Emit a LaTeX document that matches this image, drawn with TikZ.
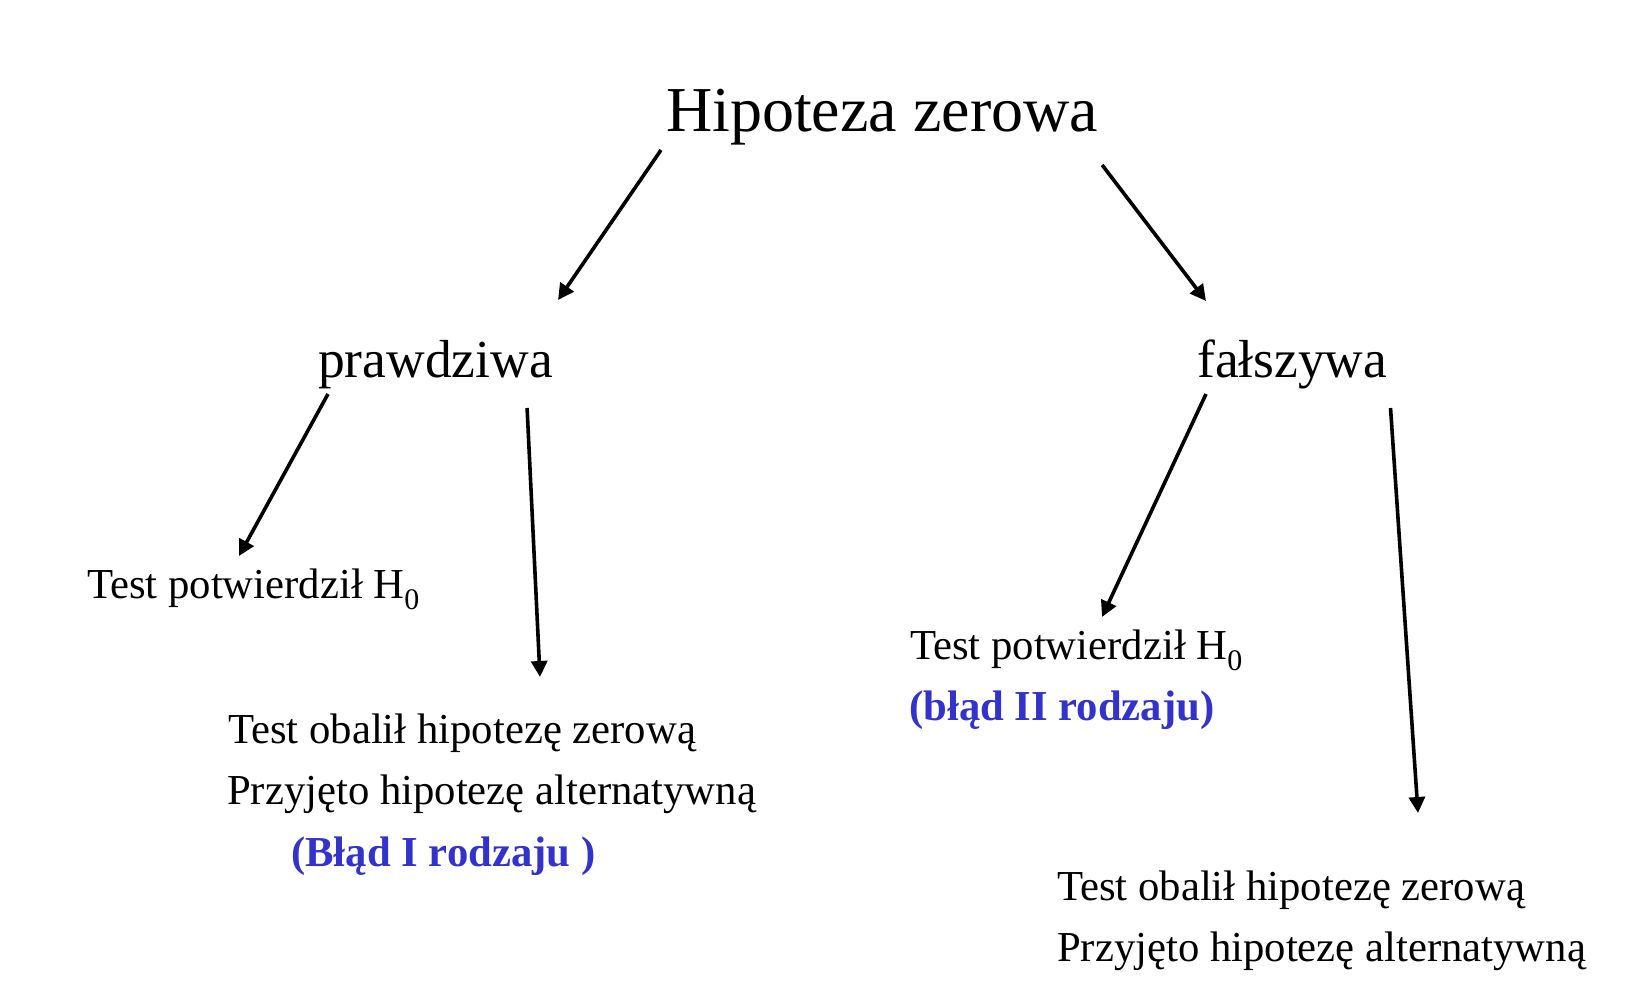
\documentclass[tikz,border=0pt]{standalone}
\usepackage{fontspec}
\setmainfont{Liberation Serif}
\usepackage{xcolor}
\usepackage{tikz}
\usetikzlibrary{arrows.meta, positioning}
\definecolor{errblue}{RGB}{51,51,204}

\begin{document}
\begin{tikzpicture}[x=1pt, y=1pt,
  every node/.style={inner sep=0pt, anchor=base west},
  big/.style={font=\fontsize{64}{77}\selectfont},
  mid/.style={font=\fontsize{53.5}{64}\selectfont},
  small/.style={font=\fontsize{42.7}{51}\selectfont},
  err/.style={font=\fontsize{42.7}{51}\selectfont\bfseries, text=errblue},
  arr/.style={-{Triangle[length=16pt, width=16pt]}, line width=3.6pt}]
\useasboundingbox (0,0) rectangle (1650,-998);

\node[big] (hyp) at (666,-131) {Hipoteza zerowa};
\node[mid] (prawd) at (318,-377) {prawdziwa};
\node[mid] (fals) at (1197,-377) {fałszywa};

\node[small] (potwL) at (87,-598) {Test potwierdził H\textsubscript{0}};
\node[small] (obalL) at (228,-743) {Test obalił hipotezę zerową};
\node[small] (przyjL) at (227,-804) {Przyjęto hipotezę alternatywną};
\node[err] (bladI) at (291,-866) {(Błąd I rodzaju )};

\node[small] (potwR) at (910,-659) {Test potwierdził H\textsubscript{0}};
\node[err] (bladII) at (909,-720) {(błąd II rodzaju)};
\node[small] (obalR) at (1057,-900) {Test obalił hipotezę zerową};
\node[small] (przyjR) at (1057,-961) {Przyjęto hipotezę alternatywną};

\draw[arr] ([shift={(-5,-19)}]hyp.base west) -- ([shift={(5,77)}]prawd.base east);
\draw[arr] ([shift={(4,-34)}]hyp.base east) -- ([shift={(9,76)}]fals.base west);

\draw[arr] ([shift={(10,-17)}]prawd.base west) -- ([shift={(152,42)}]potwL.base west);
\draw[arr] ([shift={(-26,-31)}]prawd.base east) -- ([shift={(312,66)}]obalL.base west);

\draw[arr] ([shift={(9,-17)}]fals.base west) -- ([shift={(192,42)}]potwR.base west);
\draw[arr] ([shift={(3,-31)}]fals.base east) -- ([shift={(361,87)}]obalR.base west);
\end{tikzpicture}
\end{document}
